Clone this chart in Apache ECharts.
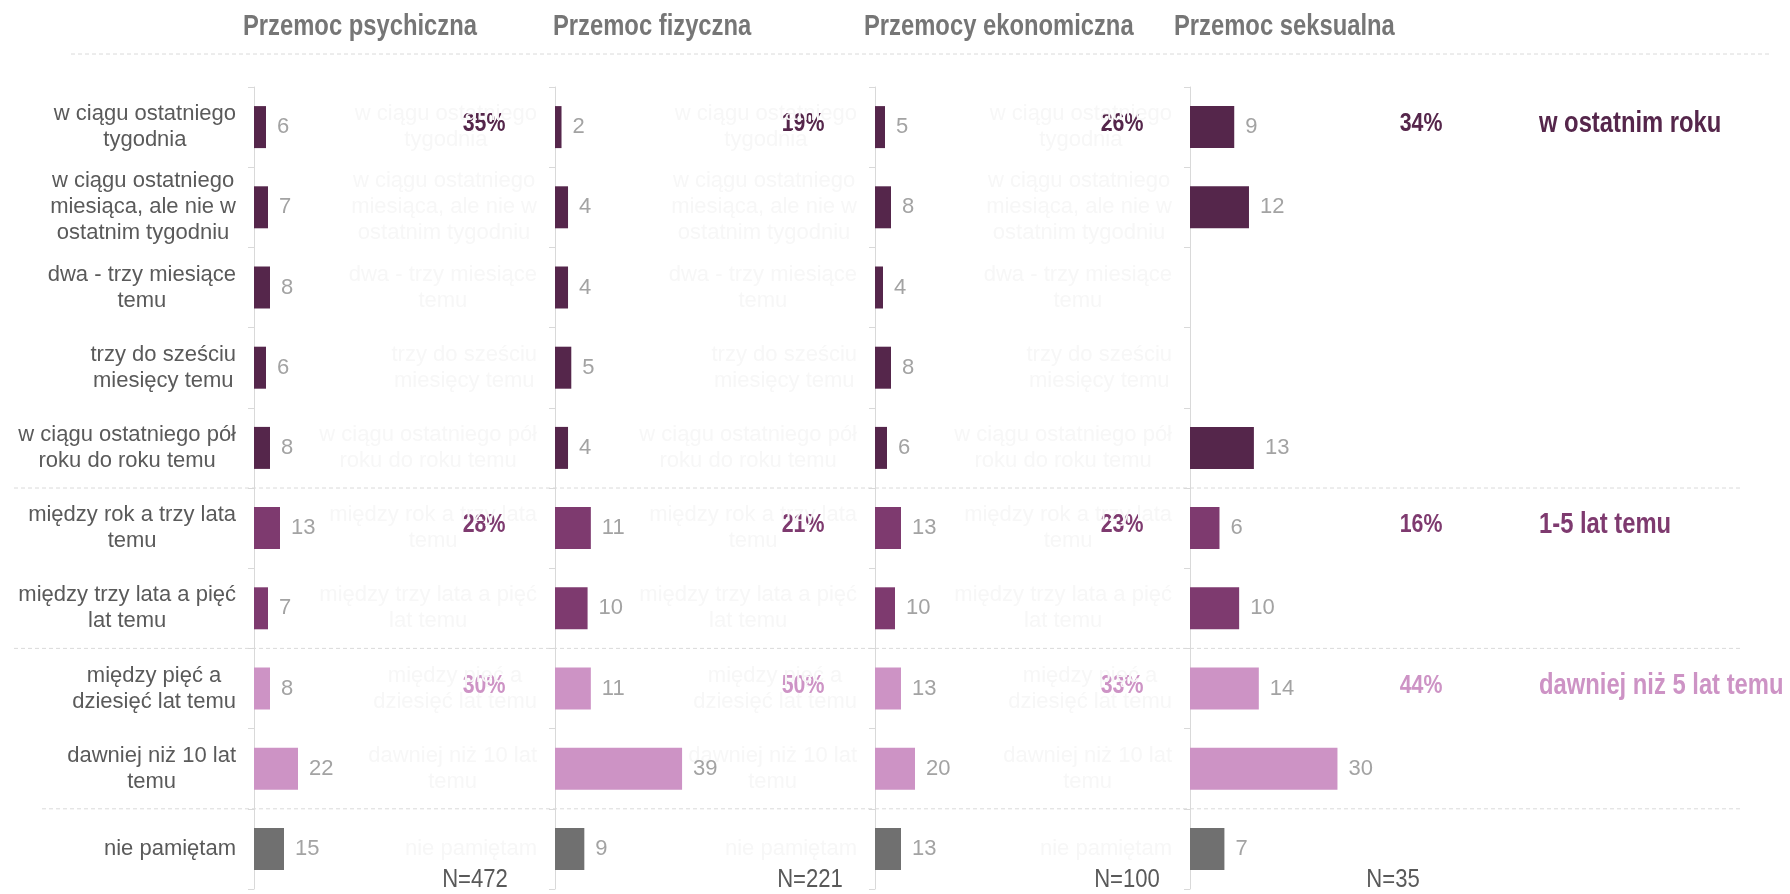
<!DOCTYPE html>
<html><head><meta charset="utf-8">
<script src="https://cdn.jsdelivr.net/npm/echarts@6/dist/echarts.min.js"></script>
<style>html,body{margin:0;padding:0;background:#fff}#c{width:1790px;height:894px}</style>
</head><body><div id="c"></div>
<script>
// ---- data ----
const categories = [
  'w ciągu ostatniego\ntygodnia',
  'w ciągu ostatniego\nmiesiąca, ale nie w\nostatnim tygodniu',
  'dwa - trzy miesiące\ntemu',
  'trzy do sześciu\nmiesięcy temu',
  'w ciągu ostatniego pół\nroku do roku temu',
  'między rok a trzy lata\ntemu',
  'między trzy lata a pięć\nlat temu',
  'między pięć a\ndziesięć lat temu',
  'dawniej niż 10 lat\ntemu',
  'nie pamiętam'
];
const panelTitles = ['Przemoc psychiczna', 'Przemoc fizyczna', 'Przemocy ekonomiczna', 'Przemoc seksualna'];
const psychiczna  = [6, 7, 8, 6, 8, 13, 7, 8, 22, 15];
const fizyczna    = [2, 4, 4, 5, 4, 11, 10, 11, 39, 9];
const ekonomiczna = [5, 8, 4, 8, 6, 13, 10, 13, 20, 13];
const seksualna   = [9, 12, null, null, 13, 6, 10, 14, 30, 7];
const groupLabels = ['w ostatnim roku', '1-5 lat temu', 'dawniej niż 5 lat temu'];
const pctLastYear = [35, 19, 26, 34];
const pct1to5     = [28, 21, 23, 16];
const pctOver5    = [30, 50, 33, 44];
const sampleN     = [472, 221, 100, 35];

// ---- layout / style ----
const seriesData = [psychiczna, fizyczna, ekonomiczna, seksualna];
const pctGroups = [pctLastYear, pct1to5, pctOver5];
const groupRow = [0, 5, 7];
const rowGroup = [0, 0, 0, 0, 0, 1, 1, 2, 2, 3];
const groupColors = ['#55264b', '#7e3a6f', '#cd93c5', '#707070'];
const gridLeft = [254, 555, 875, 1190];
const gridWidth = 290;
const axisMax = [145, 89, 145, 59];
const headerX = [243, 553, 864, 1174];
const pctX = [230, 248, 247, 231];
const nX = [475, 810, 1127, 1393];
const FONT = '"Liberation Sans", Arial, sans-serif';
const NARROW_SCALE = 0.82;

const chart = echarts.init(document.getElementById('c'), null, {renderer: 'canvas'});

const grids = [], xAxes = [], yAxes = [], series = [];
for (let i = 0; i < 4; i++) {
  grids.push({left: gridLeft[i], top: 87, width: gridWidth, height: 802, containLabel: false});
  xAxes.push({type: 'value', gridIndex: i, min: 0, max: axisMax[i], show: false});
  const lblColor = i === 0 ? '#5a5a5a' : '#f7f7f7';
  yAxes.push({
    type: 'category', gridIndex: i, data: categories, inverse: true,
    axisLine: {show: true, lineStyle: {color: '#d9d9d9', width: 1}},
    axisTick: {show: true, length: 6, lineStyle: {color: '#d9d9d9'}},
    splitLine: {show: false},
    axisLabel: {
      margin: 18, color: lblColor, fontFamily: FONT, fontSize: 22, lineHeight: 26,
      formatter: v => v.split('\n').map(s => '{c|' + s + '}').join('\n'),
      rich: {c: {align: 'center', color: lblColor, fontFamily: FONT, fontSize: 22, lineHeight: 26}}
    }
  });
  series.push({
    type: 'bar', xAxisIndex: i, yAxisIndex: i, barWidth: 42,
    data: seriesData[i].map((v, j) => ({value: v, itemStyle: {color: groupColors[rowGroup[j]]}})),
    label: {show: true, position: 'right', distance: 11, color: '#a3a3a3', fontFamily: FONT, fontSize: 22},
    animation: false
  });
}

chart.setOption({
  animation: false,
  backgroundColor: '#fff',
  grid: grids, xAxis: xAxes, yAxis: yAxes, series: series
});

// ---- overlay texts and separators placed with the axis scales ----
const rowY = j => chart.convertToPixel({yAxisIndex: 0}, categories[j]);
const graphics = [];
const dash = (x1, x2, y) => ({
  type: 'line', shape: {x1: x1, y1: y, x2: x2, y2: y}, silent: true,
  style: {stroke: '#dadada', lineWidth: 1, lineDash: [4, 3]}
});
const narrowText = (x, y, text, align, fill, font) => ({
  type: 'text', x: x, y: y, scaleX: NARROW_SCALE, silent: true,
  style: {text: text, align: align, verticalAlign: 'middle', fill: fill, font: font}
});
graphics.push(dash(71, 1770, 54));
graphics.push(dash(14, 1741, (rowY(4) + rowY(5)) / 2));
graphics.push(dash(14, 1741, (rowY(6) + rowY(7)) / 2));
graphics.push(dash(42, 1741, (rowY(8) + rowY(9)) / 2));

for (let i = 0; i < 4; i++) {
  graphics.push(narrowText(headerX[i], 27, panelTitles[i], 'left', '#767676', 'bold 29px ' + FONT));
}
for (let g = 0; g < 3; g++) {
  const y = rowY(groupRow[g]) - 3;
  for (let i = 0; i < 4; i++) {
    graphics.push(narrowText(gridLeft[i] + pctX[i], y, pctGroups[g][i] + '%', 'center', groupColors[g], 'bold 26px ' + FONT));
  }
  graphics.push(narrowText(1539, y, groupLabels[g], 'left', groupColors[g], 'bold 29px ' + FONT));
}
for (let i = 0; i < 4; i++) {
  graphics.push({
    type: 'text', x: nX[i], y: 880, scaleX: 0.85, silent: true,
    style: {text: 'N=' + sampleN[i], align: 'center', verticalAlign: 'middle',
      fill: '#595959', font: '26px ' + FONT}
  });
}
chart.setOption({graphic: graphics});
</script>
</body></html>
